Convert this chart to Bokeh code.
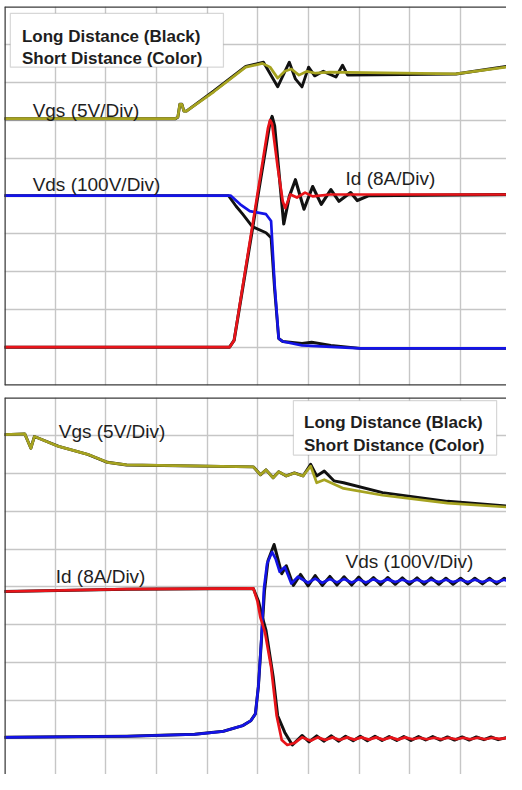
from bokeh.plotting import figure
from bokeh.layouts import column
from bokeh.models import Span, Label, BoxAnnotation, FixedTicker, Range1d
from bokeh.embed import file_html
from bokeh.resources import INLINE

# ---------------- data (time and amplitude in scope divisions) ----------------
# Top panel: turn-on
top_vgs_short_t = [0, 3.37, 3.42, 3.46, 3.50, 3.54, 3.59, 4.13, 4.76, 5.09, 5.24, 5.39, 5.53, 5.66, 5.81, 5.97, 6.14, 6.42, 8.91, 9.90]
top_vgs_short_v = [7.04, 7.04, 7.08, 7.42, 7.42, 7.24, 7.24, 7.75, 8.40, 8.50, 8.40, 8.11, 8.29, 8.35, 8.19, 8.29, 8.24, 8.27, 8.22, 8.40]
top_vgs_long_t = [0, 3.37, 3.42, 3.46, 3.50, 3.54, 3.59, 4.13, 4.76, 5.11, 5.39, 5.62, 5.74, 5.87, 6.00, 6.12, 6.29, 6.54, 6.67, 6.77, 8.91, 9.90]
top_vgs_long_v = [7.04, 7.04, 7.08, 7.42, 7.42, 7.24, 7.24, 7.77, 8.42, 8.53, 7.88, 8.53, 8.09, 7.88, 8.40, 8.17, 8.29, 8.14, 8.45, 8.19, 8.22, 8.42]

top_vds_short_t = [0, 4.46, 4.65, 4.84, 5.16, 5.26, 5.33, 5.41, 5.49, 5.87, 7.02, 9.90]
top_vds_short_v = [5.01, 5.01, 4.78, 4.60, 4.52, 4.34, 2.66, 1.24, 1.16, 1.06, 0.98, 0.98]
top_vds_long_t = [0, 4.42, 4.57, 4.70, 4.89, 5.16, 5.26, 5.33, 5.41, 5.49, 5.87, 6.06, 6.44, 7.02, 9.90]
top_vds_long_v = [5.01, 5.01, 4.73, 4.52, 4.19, 4.03, 3.90, 2.53, 1.24, 1.16, 1.11, 1.14, 1.06, 0.98, 0.98]

top_id_short_t = [0, 4.44, 4.53, 5.20, 5.24, 5.28, 5.39, 5.49, 5.54, 5.64, 5.77, 5.93, 6.08, 6.42, 9.90]
top_id_short_v = [1.01, 1.01, 1.19, 6.80, 7.00, 6.90, 5.76, 4.86, 4.68, 5.04, 4.96, 5.09, 4.99, 5.04, 5.04]
top_id_long_t = [0, 4.44, 4.53, 5.24, 5.28, 5.33, 5.51, 5.62, 5.74, 5.91, 6.08, 6.25, 6.44, 6.60, 6.83, 6.96, 7.19, 9.90]
top_id_long_v = [1.01, 1.01, 1.19, 6.95, 7.10, 6.85, 4.26, 4.99, 5.43, 4.65, 5.25, 4.78, 5.17, 4.86, 5.09, 4.88, 5.01, 5.04]

# Bottom panel: turn-off
bot_vgs_short_t = [0, 0.40, 0.52, 0.59, 1.07, 1.64, 2.03, 2.41, 4.91, 5.05, 5.16, 5.30, 5.41, 5.56, 5.72, 5.89, 6.04, 6.16, 6.31, 6.69, 7.46, 8.74, 9.90]
bot_vgs_short_v = [9.02, 9.04, 8.66, 8.97, 8.71, 8.50, 8.29, 8.22, 8.17, 7.96, 8.09, 7.88, 8.04, 7.93, 8.01, 7.93, 8.19, 7.75, 7.83, 7.60, 7.42, 7.21, 7.11]
bot_vgs_long_t = [0, 0.40, 0.52, 0.59, 1.07, 1.64, 2.03, 2.41, 4.91, 5.05, 5.16, 5.30, 5.41, 5.56, 5.72, 5.89, 6.04, 6.16, 6.31, 6.50, 6.69, 7.46, 8.74, 9.90]
bot_vgs_long_v = [9.02, 9.04, 8.66, 8.97, 8.71, 8.50, 8.29, 8.22, 8.17, 7.96, 8.09, 7.88, 8.04, 7.93, 8.01, 7.93, 8.24, 7.93, 8.06, 7.80, 7.75, 7.49, 7.26, 7.14]

bot_id_short_t = [0, 2.41, 4.91, 4.99, 5.05, 5.14, 5.26, 5.37, 5.47, 5.58, 5.72, 5.87, 6.04,
                  6.18, 6.33, 6.47, 6.61, 6.76, 6.90, 7.04, 7.19, 7.33, 7.47, 7.62, 7.76, 7.90, 8.05,
                  8.19, 8.33, 8.48, 8.62, 8.76, 8.91, 9.05, 9.19, 9.34, 9.48, 9.62, 9.77, 9.90]
bot_id_short_v = [4.88, 4.94, 4.96, 4.63, 4.19, 3.80, 2.89, 1.60, 0.96, 0.83, 0.88, 1.03, 0.94,
                  1.03, 0.96, 1.03, 0.96, 1.03, 0.97, 1.03, 0.97, 1.03, 0.97, 1.03, 0.97, 1.03, 0.98,
                  1.02, 0.98, 1.02, 0.98, 1.02, 0.98, 1.02, 0.98, 1.02, 0.98, 1.02, 0.99, 1.01]
bot_id_long_t = [0, 2.41, 4.91, 5.01, 5.09, 5.16, 5.30, 5.39, 5.53, 5.68, 5.87,
                 6.01, 6.16, 6.30, 6.45, 6.59, 6.73, 6.88, 7.02, 7.16, 7.31, 7.45, 7.59, 7.74, 7.88,
                 8.02, 8.17, 8.31, 8.45, 8.60, 8.74, 8.88, 9.03, 9.17, 9.31, 9.46, 9.60, 9.74, 9.90]
bot_id_long_v = [4.88, 4.94, 4.96, 4.63, 4.19, 3.85, 2.64, 1.60, 1.16, 0.83, 1.08,
                 0.91, 1.07, 0.93, 1.07, 0.93, 1.06, 0.94, 1.06, 0.94, 1.06, 0.95, 1.05, 0.95, 1.05,
                 0.95, 1.05, 0.96, 1.05, 0.96, 1.04, 0.96, 1.04, 0.96, 1.04, 0.97, 1.04, 0.97, 1.02]

bot_vds_short_t = [0, 2.41, 3.75, 4.32, 4.70, 4.86, 4.95, 5.01, 5.07, 5.12, 5.18, 5.28, 5.35, 5.43, 5.53, 5.66, 5.79,
                   5.99, 6.13, 6.27, 6.42, 6.56, 6.70, 6.85, 6.99, 7.13, 7.28, 7.42, 7.56, 7.71, 7.85,
                   7.99, 8.14, 8.28, 8.42, 8.57, 8.71, 8.85, 9.00, 9.14, 9.28, 9.43, 9.57, 9.71, 9.86, 9.90]
bot_vds_short_v = [1.03, 1.06, 1.11, 1.19, 1.34, 1.47, 1.65, 2.38, 3.67, 4.96, 5.61, 5.92, 5.74, 5.40, 5.53, 5.09, 5.27,
                   5.11, 5.22, 5.11, 5.21, 5.12, 5.21, 5.12, 5.20, 5.12, 5.20, 5.13, 5.20, 5.13, 5.19,
                   5.13, 5.19, 5.13, 5.19, 5.13, 5.19, 5.13, 5.19, 5.13, 5.19, 5.13, 5.19, 5.13, 5.19, 5.17]
bot_vds_long_t = [0, 2.41, 3.75, 4.32, 4.70, 4.86, 4.95, 5.01, 5.07, 5.13, 5.20, 5.32, 5.47, 5.56, 5.70,
                  5.84, 5.99, 6.13, 6.27, 6.42, 6.56, 6.70, 6.85, 6.99, 7.13, 7.28, 7.42, 7.56, 7.71, 7.85,
                  7.99, 8.14, 8.28, 8.42, 8.57, 8.71, 8.85, 9.00, 9.14, 9.28, 9.43, 9.57, 9.71, 9.86, 9.90]
bot_vds_long_v = [1.03, 1.06, 1.11, 1.19, 1.34, 1.47, 1.65, 2.38, 3.60, 4.90, 5.70, 6.12, 5.35, 5.56, 5.04,
                  5.33, 5.03, 5.30, 5.04, 5.28, 5.05, 5.27, 5.05, 5.26, 5.06, 5.25, 5.06, 5.25, 5.07, 5.24,
                  5.07, 5.24, 5.07, 5.24, 5.07, 5.23, 5.07, 5.23, 5.08, 5.23, 5.08, 5.23, 5.08, 5.23, 5.20]

grid_ticks = [1, 2, 3, 4, 5, 6, 7, 8, 9]
legend_lines = ["Long Distance (Black)", "Short Distance (Color)"]

# ---------------- styling ----------------
OLIVE = "#a6a320"
BLUE = "#1414e6"
RED = "#e8141a"
BLACK = "#111111"
BORDER = "#3a3a3a"
GRIDC = "#c6c6c6"
FONT = "Liberation Sans"


def make_panel(height, border_top, border_bottom, y_start, draw_bottom_border):
    p = figure(width=506, height=height, output_backend="svg", toolbar_location=None,
               x_axis_location=None, y_axis_location=None,
               x_range=Range1d(0, 9.905), y_range=Range1d(y_start, 10),
               min_border_left=4, min_border_right=0,
               min_border_top=border_top, min_border_bottom=border_bottom)
    p.outline_line_color = None
    p.background_fill_color = "white"
    p.xgrid.ticker = FixedTicker(ticks=grid_ticks)
    p.ygrid.ticker = FixedTicker(ticks=grid_ticks)
    p.grid.grid_line_color = GRIDC
    p.grid.grid_line_width = 1.4
    p.add_layout(Span(location=0, dimension="height", line_color=BORDER, line_width=2.5))
    p.add_layout(Span(location=10, dimension="width", line_color=BORDER, line_width=2.5))
    if draw_bottom_border:
        p.add_layout(Span(location=0, dimension="width", line_color=BORDER, line_width=2.5))
    return p


def trace(p, t, v, color, w=2.7):
    p.line(t, v, line_color=color, line_width=w, line_join="round", line_cap="round")


def label(p, x, y, text, size="19px", bold=False):
    p.add_layout(Label(x=x, y=y, text=text, text_font=FONT, text_font_size=size,
                       text_font_style="bold" if bold else "normal",
                       text_color="#1e1e1e", text_baseline="alphabetic", text_align="left"))


def legend_box(p, left, right, top, bottom, tx, ty1, ty2):
    p.add_layout(BoxAnnotation(left=left, right=right, top=top, bottom=bottom,
                               fill_color="white", fill_alpha=1.0,
                               line_color="#7a7a7a", line_width=1.2))
    label(p, tx, ty1, legend_lines[0], size="17px", bold=True)
    label(p, tx, ty2, legend_lines[1], size="17px", bold=True)


# ---------------- top panel ----------------
p1 = make_panel(387, 6, 2, 0, True)
trace(p1, top_vgs_long_t, top_vgs_long_v, BLACK, 2.9)
trace(p1, top_vgs_short_t, top_vgs_short_v, OLIVE)
trace(p1, top_vds_long_t, top_vds_long_v, BLACK, 2.9)
trace(p1, top_id_long_t, top_id_long_v, BLACK, 3.1)
trace(p1, top_vds_short_t, top_vds_short_v, BLUE)
trace(p1, top_id_short_t, top_id_short_v, RED)
legend_box(p1, 0.115, 4.32, 9.82, 8.40, 0.344, 9.22, 8.63)
label(p1, 0.555, 7.26, "Vgs (5V/Div)")
label(p1, 0.555, 5.30, "Vds (100V/Div)")
label(p1, 6.73, 5.45, "Id (8A/Div)")

# ---------------- bottom panel ----------------
p2 = make_panel(387, 10, 0, 0.05, False)
trace(p2, bot_vgs_long_t, bot_vgs_long_v, BLACK, 2.9)
trace(p2, bot_vgs_short_t, bot_vgs_short_v, OLIVE)
trace(p2, bot_vds_long_t, bot_vds_long_v, BLACK, 3.0)
trace(p2, bot_id_long_t, bot_id_long_v, BLACK, 3.0)
trace(p2, bot_vds_short_t, bot_vds_short_v, BLUE)
trace(p2, bot_id_short_t, bot_id_short_v, RED)
legend_box(p2, 5.70, 9.71, 9.92, 8.48, 5.91, 9.35, 8.73)
label(p2, 1.07, 9.10, "Vgs (5V/Div)")
label(p2, 1.01, 5.27, "Id (8A/Div)")
label(p2, 6.73, 5.68, "Vds (100V/Div)")

layout = column(p1, p2)
open("out.html", "w").write(file_html(layout, INLINE))
